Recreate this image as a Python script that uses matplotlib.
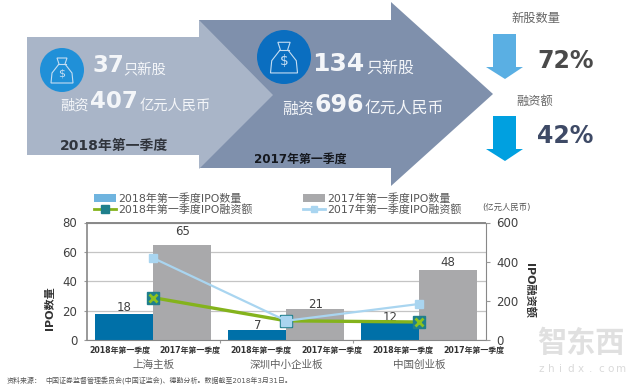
import numpy as np
import matplotlib
matplotlib.use('Agg')
import matplotlib.pyplot as plt
from matplotlib.patches import Polygon, Circle
from matplotlib.lines import Line2D
from matplotlib.patches import Patch

plt.rcParams['font.family'] = ['DejaVu Sans', 'Noto Sans CJK SC']

# chart data
boards = ['上海主板', '深圳中小企业板', '中国创业板']
q_labels = ['2018年第一季度', '2017年第一季度'] * 3
count_2018 = [18, 7, 12]
count_2017 = [65, 21, 48]
raise_2018 = [216, 98, 92]
raise_2017 = [418, 98, 184]

W, H = 640, 387
fig = plt.figure(figsize=(W / 100, H / 100), dpi=100)

# background layer in pixel coordinates
bg = fig.add_axes([0, 0, 1, 1])
bg.set_xlim(0, W)
bg.set_ylim(H, 0)
bg.axis('off')

bg.add_patch(Polygon([(199, 20), (391, 20), (391, 2), (493, 94), (391, 186), (391, 168), (199, 168)],
                     fc='#7F90AC', ec='none'))
bg.add_patch(Polygon([(27, 37), (199, 37), (199, 20), (273, 95), (199, 169), (199, 155), (27, 155)],
                     fc='#A9B5C8', ec='none'))


def money_bag(cx, cy, r, fc):
    bg.add_patch(Circle((cx, cy), r, fc=fc, ec='none'))
    s = r / 22
    pts = [(-5, -12), (5, -12), (3, -6), (10, 3), (11, 13), (-11, 13), (-10, 3), (-3, -6)]
    bg.add_patch(Polygon([(cx + a * s, cy + b * s) for a, b in pts], fc='none', ec='#C5DDF2', lw=0.8))
    bg.plot([cx - 4 * s, cx + 4 * s], [cy - 6 * s, cy - 6 * s], color='#C5DDF2', lw=0.8)
    bg.text(cx, cy + 3.5 * s, '$', color='#C5DDF2', fontsize=8 * s, ha='center', va='center')


money_bag(62, 70, 22, '#2090D8')
money_bag(284, 57, 27, '#0A6EC0')


def down_arrow(top, color):
    bg.add_patch(Polygon([(493, top), (516, top), (516, top + 33), (523, top + 33), (505, top + 45),
                          (486, top + 33), (493, top + 33)], fc=color, ec='none'))


down_arrow(34, '#5AAFE3')
down_arrow(116, '#00A0E0')

white = '#F4F6F9'
bg.text(92, 65, '37', color=white, fontsize=16.5, fontweight='bold', va='center')
bg.text(123, 70, '只新股', color=white, fontsize=10.3, va='center')
bg.text(60, 106, '融资', color=white, fontsize=10.3, va='center')
bg.text(90, 102, '407', color=white, fontsize=16.5, fontweight='bold', va='center')
bg.text(140, 106, '亿元人民币', color=white, fontsize=10.3, va='center')
bg.text(60, 146, '2018年第一季度', color='#30343C', fontsize=10, fontweight='bold', va='center')

bg.text(312, 64, '134', color=white, fontsize=18, fontweight='bold', va='center')
bg.text(366, 69, '只新股', color=white, fontsize=11.5, va='center')
bg.text(282, 109, '融资', color=white, fontsize=11.4, va='center')
bg.text(314, 105, '696', color=white, fontsize=17, fontweight='bold', va='center')
bg.text(365, 109, '亿元人民币', color=white, fontsize=11.4, va='center')
bg.text(254, 159, '2017年第一季度', color='#15181E', fontsize=8.6, fontweight='bold', va='center')

bg.text(536, 18, '新股数量', color='#666666', fontsize=8.8, ha='center', va='center')
bg.text(535, 101, '融资额', color='#666666', fontsize=8.8, ha='center', va='center')
bg.text(537, 61, '72%', color='#4A4A4A', fontsize=17, fontweight='bold', va='center')
bg.text(537, 136, '42%', color='#3E4A66', fontsize=17, fontweight='bold', va='center')

# watermark
bg.text(581, 344, '智东西', color='#E0E0E0', fontsize=21, fontweight='bold', ha='center', va='center')
for i, ch in enumerate('zhidx.com'):
    bg.text(541 + i * 10, 369, ch, color='#DADADA', fontsize=7.5, ha='center', va='center')

bg.text(7, 380, '资料来源：', color='#555555', fontsize=5, va='center')
bg.text(45, 380, '中国证券监督管理委员会(中国证监会)、德勤分析。数据截至2018年3月31日。',
        color='#555555', fontsize=5, va='center')

# chart layer
L, R, T, B = 87, 485.5, 222.5, 340
ax = fig.add_axes([L / W, 1 - B / H, (R - L) / W, (B - T) / H])
ax.patch.set_alpha(0)
centers = np.arange(len(boards)) + 0.5
bw = 58 / 133
ax.bar(centers - bw / 2, count_2018, bw, color='#0070A8', zorder=2)
ax.bar(centers + bw / 2, count_2017, bw, color='#A9A9AB', zorder=2)
ax.set_xlim(0, 3)
ax.set_ylim(0, 80)
ax.set_yticks([0, 20, 40, 60, 80])
ax.grid(axis='y', color='#C4C4C4', lw=0.9, zorder=0)
ax.set_axisbelow(True)
ax.tick_params(axis='y', labelsize=8.5, length=2, color='#999999', labelcolor='#404040', pad=5)

# label gaps above the bars, in value units
gap_2018 = [0, -1.5, -1]
gap_2017 = [4.5, -1, 0]
for i in range(3):
    ax.text(centers[i] - bw / 2, count_2018[i] + gap_2018[i], str(count_2018[i]), ha='center', va='bottom',
            fontsize=8.5, color='#404040', zorder=6)
    ax.text(centers[i] + bw / 2, count_2017[i] + gap_2017[i], str(count_2017[i]), ha='center', va='bottom',
            fontsize=8.5, color='#404040', zorder=6)

ax.set_xticks(np.arange(1, 3))
ax.set_xticklabels([])
ax.tick_params(axis='x', length=2, color='#999999')
# the quarter labels are evenly spaced, not centred under the bars
for i, lab in enumerate(q_labels):
    ax.annotate(lab, ((32.5 + 71 * i) / 133, 0), xycoords=('data', 'axes fraction'),
                xytext=(0, -7.5), textcoords='offset points', ha='center', va='center',
                fontsize=5.7, fontweight='bold', color='#333333')
for i in range(3):
    ax.annotate(boards[i], (centers[i], 0), xycoords=('data', 'axes fraction'), xytext=(0, -18),
                textcoords='offset points', ha='center', va='center', fontsize=7.6, color='#606060')

for side in ['left', 'right', 'top', 'bottom']:
    ax.spines[side].set_color('#888888')
ax.spines['top'].set_linewidth(1.4)
ax.spines['left'].set_linewidth(1.2)
ax.set_ylabel('IPO数量', fontsize=8, fontweight='bold', color='#333333', labelpad=0)
ax.yaxis.set_label_coords(-32 / (R - L), 0.27)

ax2 = ax.twinx()
ax2.patch.set_alpha(0)
ax2.set_ylim(0, 600)
ax2.set_yticks([0, 200, 400, 600])
ax2.tick_params(axis='y', labelsize=8.5, length=3, color='#999999', labelcolor='#404040', pad=5)
for s in ax2.spines.values():
    s.set_visible(False)
ax2.plot(centers, raise_2017, color='#A9D5F0', lw=1.6, marker='s', ms=6, mfc='#A9D5F0', mec='#A9D5F0', zorder=4)
ax2.plot(centers, raise_2018, color='#84B31C', lw=2.4, marker='s', ms=9, mfc='#1F7F8C', mec='#1F7F8C', zorder=3)
ax2.plot(centers, raise_2018, ls='none', marker='x', ms=6, mew=2, color='#8CC21E', zorder=3.5)
ax2.plot(centers[1], raise_2017[1], marker='s', ms=7, color='#A9D5F0', zorder=5)
ax2.set_ylabel('IPO融资额', fontsize=8, fontweight='bold', color='#333333', rotation=270, labelpad=0)
ax2.yaxis.set_label_coords(1 + 49 / (R - L), 0.42)
bg.text(482, 207, '(亿元人民币)', color='#555555', fontsize=6, va='center')

# legend
handles = [Patch(fc='#6FB4DF', label='2018年第一季度IPO数量'),
           Line2D([], [], color='#84B31C', lw=2, marker='s', ms=6, mfc='#1F7F8C', mec='#1F7F8C',
                  label='2018年第一季度IPO融资额'),
           Patch(fc='#A9A9AB', label='2017年第一季度IPO数量'),
           Line2D([], [], color='#A9D5F0', lw=2, marker='s', ms=5, mfc='#A9D5F0', mec='#A9D5F0',
                  label='2017年第一季度IPO融资额')]
fig.legend(handles=handles, ncol=2, frameon=False, fontsize=7.9, labelcolor='#555555',
           loc='center left', bbox_to_anchor=(94 / W, 1 - 204 / H), handlelength=2.0,
           handletextpad=0.2, columnspacing=4.6, labelspacing=0.0, borderpad=0, borderaxespad=0)

fig.savefig('out.png', dpi=100)
